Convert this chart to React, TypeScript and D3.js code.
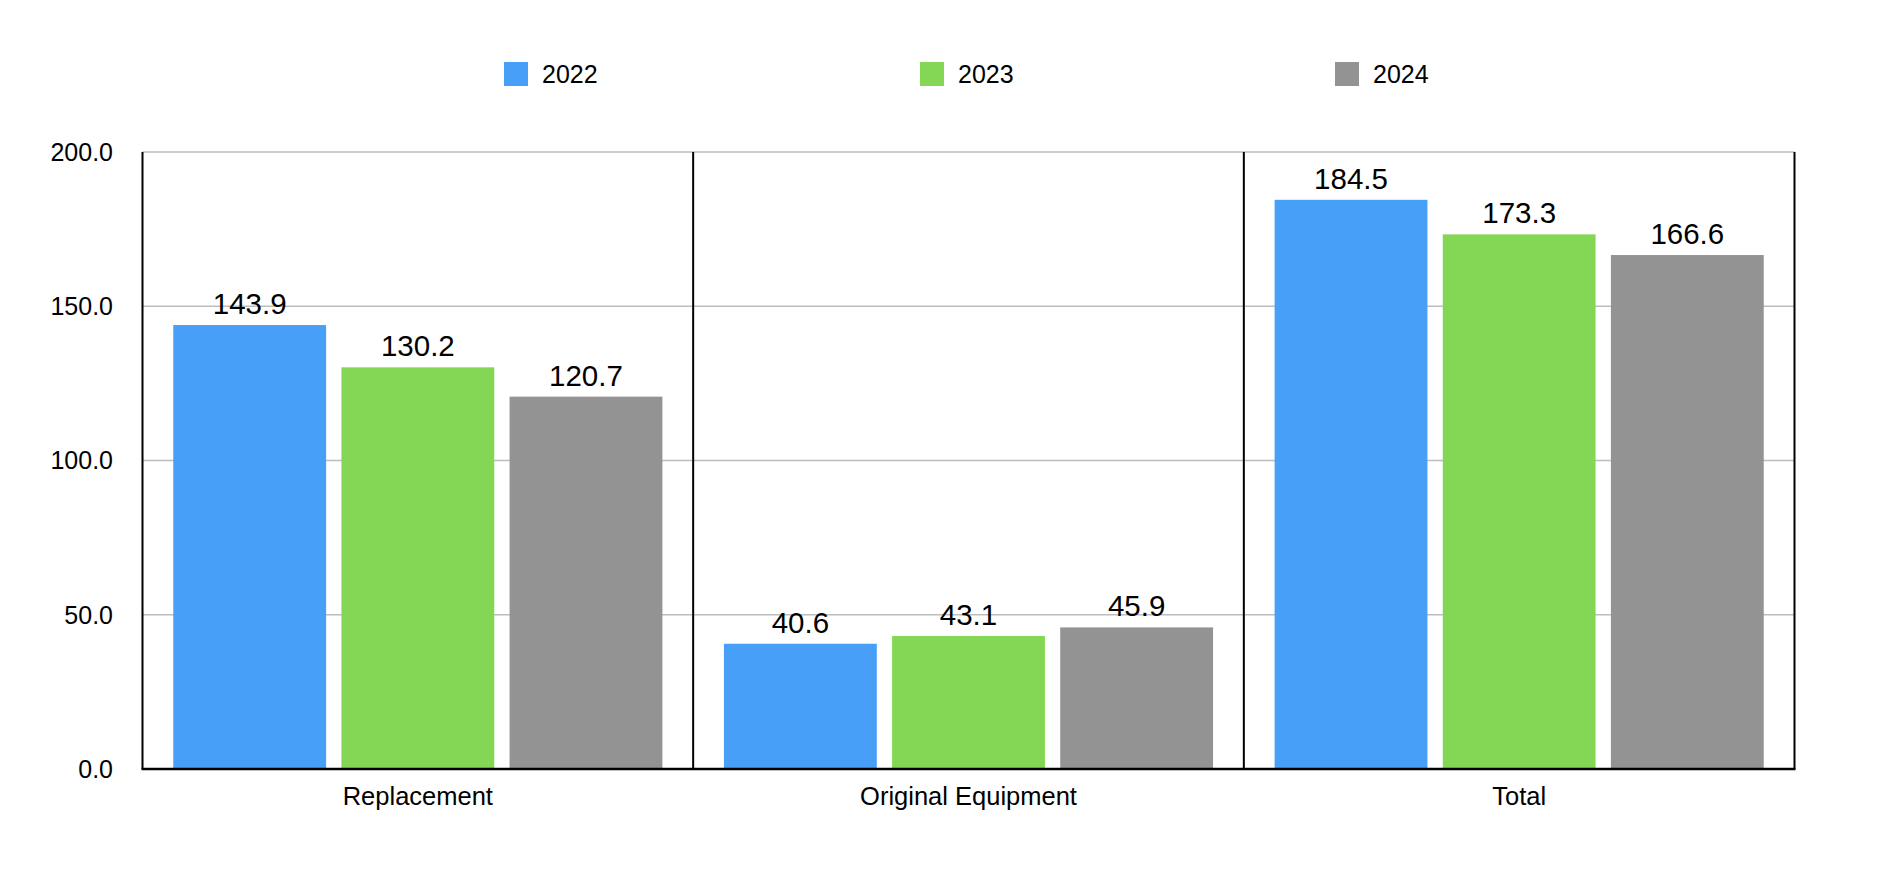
import React from "react";
import * as d3 from "d3";

const categories = ["Replacement", "Original Equipment", "Total"];
const seriesNames = ["2022", "2023", "2024"];
const values2022 = [143.9, 40.6, 184.5];
const values2023 = [130.2, 43.1, 173.3];
const values2024 = [120.7, 45.9, 166.6];
const yTicks = [0, 50, 100, 150, 200];
const colors = ["#479ff8", "#83d754", "#939393"];

const W = 1878;
const H = 884;
const left = 142.5;
const right = 1794.5;
const top = 152;
const bottom = 769;
const font = "'Liberation Sans', Arial, Helvetica, sans-serif";

export default function App() {
  const series = [values2022, values2023, values2024];
  const x0 = d3.scaleBand<string>().domain(categories).range([left, right]).paddingInner(0).paddingOuter(0);
  const x1 = d3
    .scaleBand<string>()
    .domain(seriesNames)
    .range([0, x0.bandwidth()])
    .paddingInner(0.091)
    .paddingOuter(0.183);
  const y = d3.scaleLinear().domain([0, 200]).range([bottom, top]);
  const legendX = [504, 920, 1335];

  return (
    <svg width={W} height={H} style={{ position: "absolute", left: 0, top: 0, background: "#fff" }}>
      <rect x={0} y={0} width={W} height={H} fill="#fff" />
      {yTicks.map((t) => (
        <g key={t}>
          {t > 0 && <line x1={left} x2={right} y1={y(t)} y2={y(t)} stroke="#bdbdbd" strokeWidth={1.3} />}
          <text
            x={113}
            y={y(t)}
            dy="0.35em"
            textAnchor="end"
            fontFamily={font}
            fontSize={25}
            fill="#000"
          >
            {d3.format(".1f")(t)}
          </text>
        </g>
      ))}
      {categories.map((c, ci) => (
        <g key={c} transform={`translate(${x0(c)},0)`}>
          {series.map((vals, si) => (
            <g key={si}>
              <rect
                x={x1(seriesNames[si])}
                y={y(vals[ci])}
                width={x1.bandwidth()}
                height={y(0) - y(vals[ci])}
                fill={colors[si]}
              />
              <text
                x={(x1(seriesNames[si]) as number) + x1.bandwidth() / 2}
                y={y(vals[ci]) - 11}
                textAnchor="middle"
                fontFamily={font}
                fontSize={29.5}
                fill="#000"
              >
                {vals[ci].toFixed(1)}
              </text>
            </g>
          ))}
          <text
            x={x0.bandwidth() / 2}
            y={805}
            textAnchor="middle"
            fontFamily={font}
            fontSize={25.5}
            fill="#000"
          >
            {c}
          </text>
        </g>
      ))}
      {[left, ...categories.map((c) => (x0(c) as number) + x0.bandwidth())].map((xv, i) => (
        <line key={i} x1={xv} x2={xv} y1={top} y2={bottom} stroke="#000" strokeWidth={2} />
      ))}
      <line x1={left - 1} x2={right + 1} y1={bottom} y2={bottom} stroke="#000" strokeWidth={2.5} />
      {seriesNames.map((s, i) => (
        <g key={s}>
          <rect x={legendX[i]} y={62} width={24} height={24} fill={colors[i]} />
          <text x={legendX[i] + 38} y={82.5} fontFamily={font} fontSize={25} fill="#000">
            {s}
          </text>
        </g>
      ))}
    </svg>
  );
}
